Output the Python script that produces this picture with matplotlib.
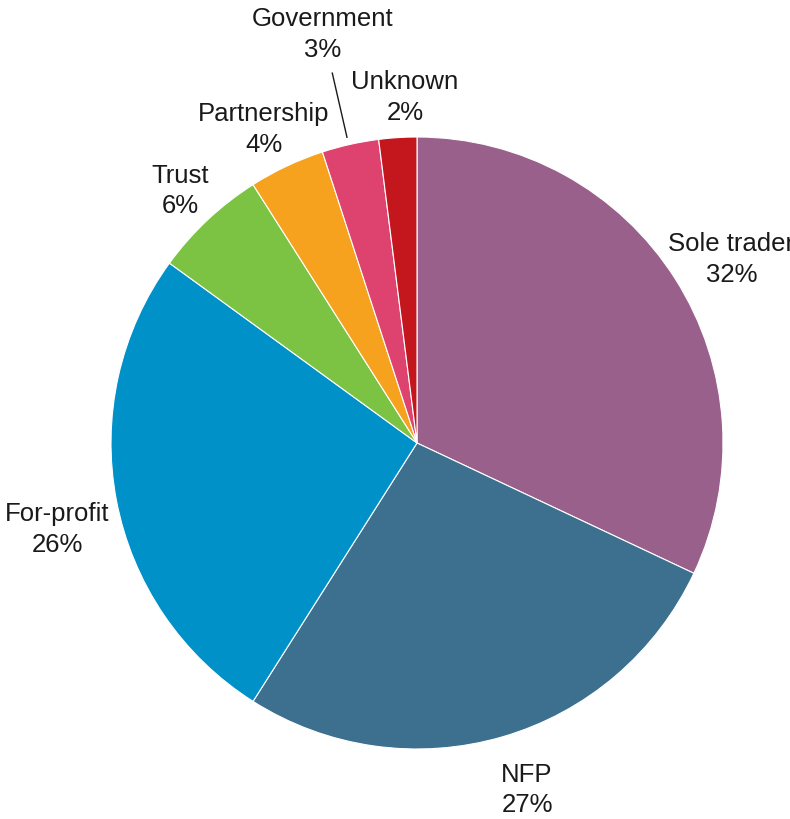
import numpy as np
import matplotlib.pyplot as plt

labels = ['Sole trader', 'NFP', 'For-profit', 'Trust', 'Partnership', 'Government', 'Unknown']
shares = [32, 27, 26, 6, 4, 3, 2]
colors = ['#99608c', '#3d6f8f', '#0091c8', '#7cc243', '#f7a21e', '#de426e', '#c3161d']

# label distance (in radii) and angle nudge (deg) per slice
label_dist = [1.19, 1.19, 1.21, 1.13, 1.14, 1.37, 1.13]
label_nudge = [-2.1, 1.4, 2.7, 0.0, 0.8, 0.4, -1.6]

plt.rcParams['font.family'] = ['Liberation Sans Narrow', 'Liberation Sans', 'DejaVu Sans']

fig = plt.figure(figsize=(7.9, 8.19), dpi=100)
R = 306
cx, cy = 417, 443
ax = fig.add_axes([(cx - R) / 790, (819 - cy - R) / 819, 2 * R / 790, 2 * R / 819])

wedges, _ = ax.pie(shares, colors=colors, startangle=90, counterclock=False,
                   radius=1, wedgeprops=dict(edgecolor='white', linewidth=0.8))
ax.set_xlim(-1, 1)
ax.set_ylim(-1, 1)
ax.set_aspect('equal')
ax.axis('off')

for w, lab, s, d, n in zip(wedges, labels, shares, label_dist, label_nudge):
    ang = np.deg2rad((w.theta1 + w.theta2) / 2 + n)
    x, y = d * np.cos(ang), d * np.sin(ang)
    ax.text(x, y, f'{lab}\n{s}%', ha='center', va='center', fontsize=18.5,
            color='#1a1a1a', linespacing=1.35, clip_on=False)
    if lab == 'Government':
        # leader line, radial from just outside the slice up to the label
        a = np.deg2rad((w.theta1 + w.theta2) / 2 + 0.3)
        ax.plot([1.025 * np.cos(a), 1.24 * np.cos(a)],
                [1.025 * np.sin(a), 1.24 * np.sin(a)],
                color='#1a1a1a', lw=1, clip_on=False)

fig.savefig('out.png')
